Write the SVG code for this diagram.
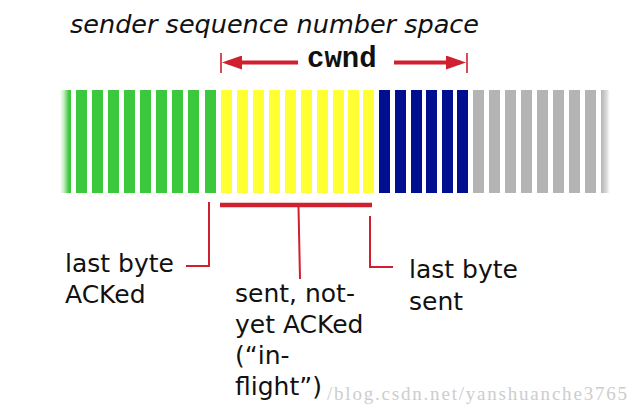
<svg xmlns="http://www.w3.org/2000/svg" width="639" height="414" viewBox="0 0 639 414">
  <style>
    .lbl { font-family: "DejaVu Sans", Verdana, sans-serif; font-size: 25px; fill: #111; }
    .title { font-family: "DejaVu Sans", Verdana, sans-serif; font-size: 25.5px; font-style: oblique; fill: #111; }
    .mono { font-family: "Liberation Mono", "Courier New", monospace; font-size: 29px; font-weight: bold; fill: #111; }
    .wm { font-family: "Liberation Serif", "Times New Roman", serif; font-size: 19px; fill: #cdcdcd; }
    .g { fill: #3cc83c; }
    .y { fill: #ffff33; }
    .b { fill: #000f8f; }
    .s { fill: #b4b4b4; }
    .thin { stroke: #d01f2f; stroke-width: 2; fill: none; }
    .thick { stroke: #d01f2f; stroke-width: 4.5; fill: none; }
    .arrow { stroke: #d01f2f; stroke-width: 4; fill: none; marker-end: url(#head); }
    .tick { stroke: #d01f2f; stroke-width: 1.6; }
  </style>
  <defs>
    <marker id="head" markerUnits="userSpaceOnUse" markerWidth="20" markerHeight="14" viewBox="0 0 20 14" refX="14" refY="7" orient="auto">
      <path d="M0,0 L20,7 L0,14 z" fill="#d01f2f"/>
    </marker>
    <linearGradient id="fadeL" x1="0" y1="0" x2="1" y2="0">
      <stop offset="0" stop-color="#3cc83c" stop-opacity="0"/>
      <stop offset="0.35" stop-color="#3cc83c" stop-opacity="0.3"/>
      <stop offset="0.8" stop-color="#3cc83c" stop-opacity="1"/>
    </linearGradient>
    <linearGradient id="fadeR" x1="0" y1="0" x2="1" y2="0">
      <stop offset="0" stop-color="#b4b4b4" stop-opacity="1"/>
      <stop offset="0.5" stop-color="#b4b4b4" stop-opacity="0.5"/>
      <stop offset="0.8" stop-color="#b4b4b4" stop-opacity="0"/>
    </linearGradient>
  </defs>
  <rect width="639" height="414" fill="#fff"/>

  <g id="title">
    <text class="title" x="70" y="33">sender sequence number space</text>
  </g>

  <g id="sequence-bar">
    <rect x="60" y="90" width="11" height="103" fill="url(#fadeL)"/>
    <rect class="g" x="76" y="90" width="11" height="103"/>
    <rect class="g" x="92" y="90" width="11" height="103"/>
    <rect class="g" x="108" y="90" width="11" height="103"/>
    <rect class="g" x="124" y="90" width="11" height="103"/>
    <rect class="g" x="140" y="90" width="11" height="103"/>
    <rect class="g" x="156" y="90" width="11" height="103"/>
    <rect class="g" x="172" y="90" width="11" height="103"/>
    <rect class="g" x="188" y="90" width="11" height="103"/>
    <rect class="g" x="205" y="90" width="11" height="103"/>
    <rect class="y" x="221" y="90" width="11" height="103"/>
    <rect class="y" x="237" y="90" width="11" height="103"/>
    <rect class="y" x="253" y="90" width="11" height="103"/>
    <rect class="y" x="269" y="90" width="11" height="103"/>
    <rect class="y" x="285" y="90" width="11" height="103"/>
    <rect class="y" x="301" y="90" width="11" height="103"/>
    <rect class="y" x="317" y="90" width="11" height="103"/>
    <rect class="y" x="333" y="90" width="11" height="103"/>
    <rect class="y" x="348" y="90" width="11" height="103"/>
    <rect class="y" x="363" y="90" width="11" height="103"/>
    <rect class="b" x="379" y="90" width="11" height="103"/>
    <rect class="b" x="395" y="90" width="11" height="103"/>
    <rect class="b" x="411" y="90" width="11" height="103"/>
    <rect class="b" x="426" y="90" width="11" height="103"/>
    <rect class="b" x="442" y="90" width="11" height="103"/>
    <rect class="b" x="457" y="90" width="11" height="103"/>
    <rect class="s" x="473" y="90" width="11" height="103"/>
    <rect class="s" x="489" y="90" width="11" height="103"/>
    <rect class="s" x="505" y="90" width="11" height="103"/>
    <rect class="s" x="521" y="90" width="11" height="103"/>
    <rect class="s" x="537" y="90" width="11" height="103"/>
    <rect class="s" x="553" y="90" width="11" height="103"/>
    <rect class="s" x="569" y="90" width="11" height="103"/>
    <rect class="s" x="585" y="90" width="11" height="103"/>
    <rect x="601" y="90" width="11" height="103" fill="url(#fadeR)"/>
  </g>

  <g id="cwnd">
    <text class="mono" x="307" y="67">cwnd</text>
  </g>

  <g id="label-acked">
    <text class="lbl" x="65" y="272">last byte</text>
    <text class="lbl" x="65" y="303">ACKed</text>
  </g>

  <g id="label-inflight">
    <text class="lbl" x="235" y="302">sent, not-</text>
    <text class="lbl" x="235" y="333">yet ACKed</text>
    <text class="lbl" x="235" y="364">(“in-</text>
    <text class="lbl" x="235" y="395">flight”)</text>
  </g>

  <g id="label-sent">
    <text class="lbl" x="409" y="278">last byte</text>
    <text class="lbl" x="409" y="310">sent</text>
  </g>

  <g id="connectors">
    <line class="tick" x1="221" y1="53" x2="221" y2="73"/>
    <line class="tick" x1="467" y1="53" x2="467" y2="73"/>
    <line class="arrow" x1="298" y1="62.5" x2="228" y2="62.5"/>
    <line class="arrow" x1="394" y1="62.5" x2="460" y2="62.5"/>
    <line class="thick" x1="220" y1="205" x2="372" y2="205"/>
    <polyline class="thin" points="209,202 209,266 186,266"/>
    <line class="thin" x1="298.5" y1="207" x2="300" y2="279"/>
    <polyline class="thin" points="370,216 370,267 393,267"/>
  </g>

  <text class="wm" x="327" y="400" textLength="300" lengthAdjust="spacing">/blog.csdn.net/yanshuanche3765</text>
</svg>
